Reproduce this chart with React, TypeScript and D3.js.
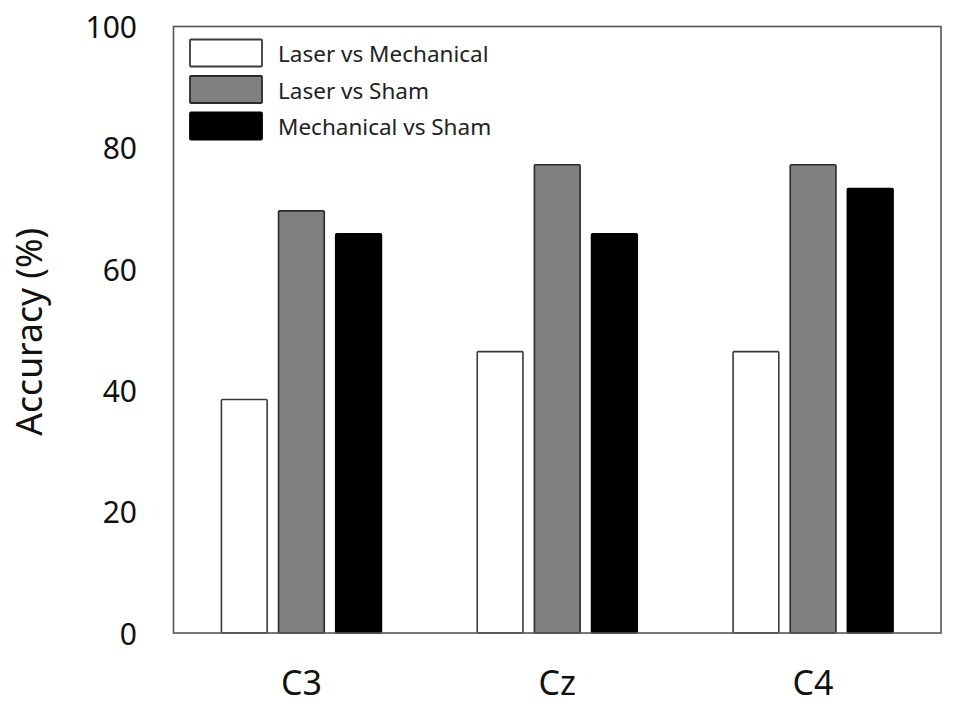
import React from "react";
import * as d3 from "d3";

const categories = ["C3", "Cz", "C4"];
const seriesNames = ["Laser vs Mechanical", "Laser vs Sham", "Mechanical vs Sham"];
const laserVsMechanical = [38.5, 46.4, 46.4];
const laserVsSham = [69.6, 77.2, 77.2];
const mechanicalVsSham = [65.8, 65.8, 73.3];
const yTicks = [0, 20, 40, 60, 80, 100];

const seriesValues = [laserVsMechanical, laserVsSham, mechanicalVsSham];
const fills = ["#ffffff", "#808080", "#000000"];
const strokes = ["#3a3a3a", "#2a2a2a", "#000000"];

const W = 953;
const H = 709;
const left = 173.5;
const right = 941;
const top = 26.5;
const bottom = 633;
const font = "'Noto Sans', 'Open Sans', sans-serif";

export default function App() {
  const y = d3.scaleLinear().domain([0, 100]).range([bottom, top]);
  const x = d3.scaleBand().domain(categories).range([left, right]).padding(0);
  const groupW = 160;
  const xs = d3
    .scaleBand()
    .domain(seriesNames)
    .range([0, groupW])
    .paddingInner(0.2)
    .paddingOuter(0);

  return (
    <svg
      width={W}
      height={H}
      style={{ position: "absolute", left: 0, top: 0, background: "#fff" }}
    >
      <rect x={0} y={0} width={W} height={H} fill="#fff" />
      {categories.map((c, ci) => {
        const gx = (x(c) as number) + x.bandwidth() / 2 - groupW / 2;
        return seriesNames.map((s, si) => {
          const v = seriesValues[si][ci];
          return (
            <rect
              key={c + s}
              x={gx + (xs(s) as number)}
              y={y(v)}
              width={xs.bandwidth()}
              height={bottom - y(v)}
              fill={fills[si]}
              stroke={strokes[si]}
              strokeWidth={1.6}
              rx={1}
            />
          );
        });
      })}
      <rect
        x={left}
        y={top}
        width={right - left}
        height={bottom - top}
        fill="none"
        stroke="#555"
        strokeWidth={1.6}
      />
      {yTicks.map((t) => (
        <text
          key={t}
          x={137}
          y={y(t)}
          textAnchor="end"
          dominantBaseline="central"
          fontFamily={font}
          fontSize={30}
          fill="#111"
        >
          {t}
        </text>
      ))}
      {categories.map((c) => (
        <text
          key={c}
          x={(x(c) as number) + x.bandwidth() / 2}
          y={682}
          textAnchor="middle"
          dominantBaseline="central"
          fontFamily={font}
          fontSize={34}
          fill="#111"
        >
          {c}
        </text>
      ))}
      <text
        transform={`translate(28, ${(top + bottom) / 2 + 2}) rotate(-90)`}
        textAnchor="middle"
        dominantBaseline="central"
        fontFamily={font}
        fontSize={35.5}
        fill="#111"
      >
        Accuracy (%)
      </text>
      {seriesNames.map((s, i) => {
        const ly = 39.5 + i * 36.5;
        return (
          <g key={s}>
            <rect
              x={190}
              y={ly}
              width={72}
              height={27}
              fill={fills[i]}
              stroke={strokes[i]}
              strokeWidth={1.8}
              rx={1}
            />
            <text
              x={278}
              y={ly + 14}
              dominantBaseline="central"
              fontFamily={font}
              fontSize={22.5}
              fill="#222"
            >
              {s}
            </text>
          </g>
        );
      })}
    </svg>
  );
}
